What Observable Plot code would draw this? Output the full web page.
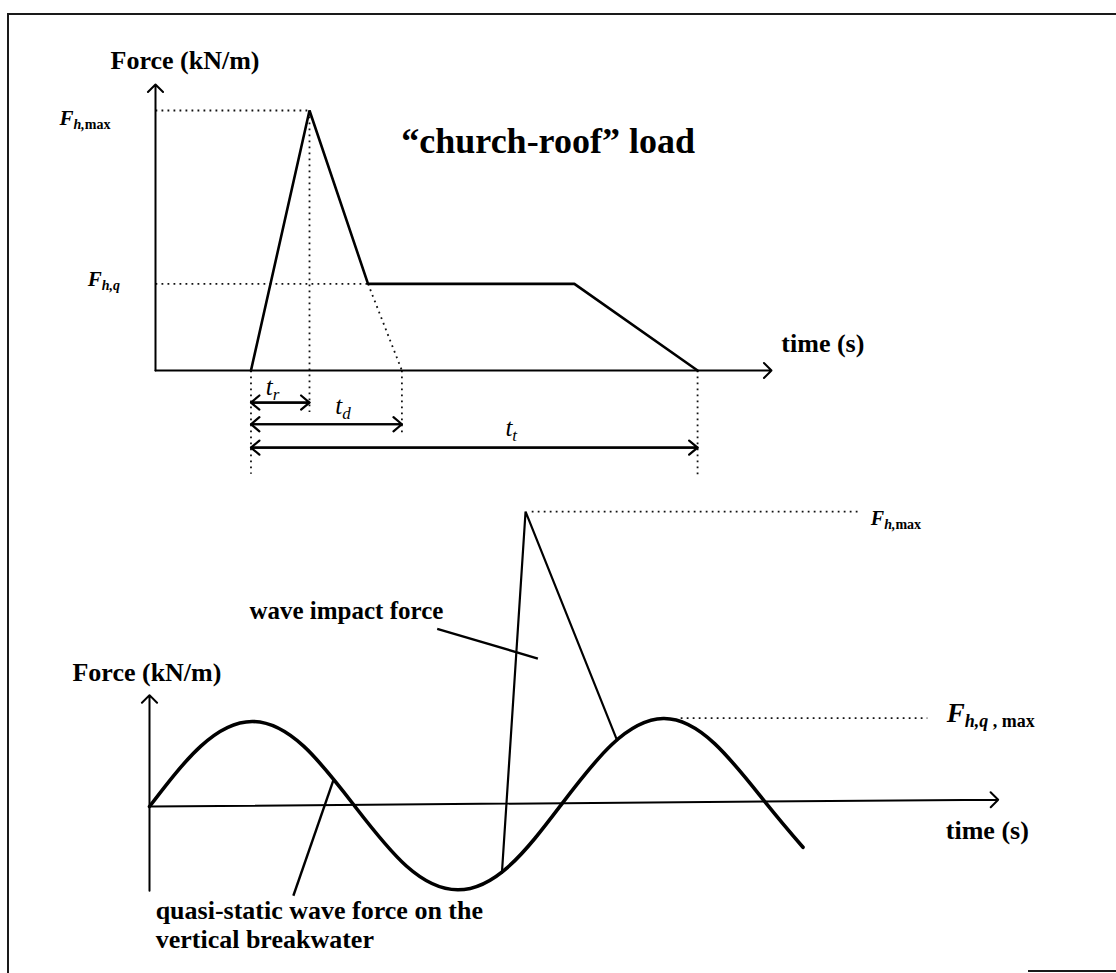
<!DOCTYPE html>
<html>
<head>
<meta charset="utf-8">
<script src="https://cdn.jsdelivr.net/npm/d3@7"></script>
<script src="https://cdn.jsdelivr.net/npm/@observablehq/plot@0.6"></script>
<style>
  body { margin: 0; background: #fff; }
  #page { position: relative; width: 1116px; height: 973px; overflow: hidden; background: #fff; }
  #upper, #lower { position: absolute; left: 0; }
  #upper { top: 0; }
  #lower { top: 480px; }
  .rule { position: absolute; background: #1a1a1a; z-index: 2; }
</style>
</head>
<body>
<div id="page">
  <div id="upper"></div>
  <div id="lower"></div>
  <div class="rule" style="left:7px;top:13px;width:1109px;height:2px"></div>
  <div class="rule" style="left:7px;top:13px;width:2px;height:960px"></div>
  <div class="rule" style="left:1028px;top:970px;width:88px;height:2px"></div>
</div>
<script>
// ---------- upper panel: idealised "church-roof" load history ----------
const roofTime  = [1.55, 2.5, 3.45, 6.8, 8.8];   // s (schematic units)
const roofForce = [0, 3, 1, 1, 0];                // kN/m (schematic units)
const tStart = 1.55, tPeak = 2.5, tPlateau = 3.45, tDuration = 4.0, tTotal = 8.8;
const fMax = 3, fQuasi = 1;

const spanNames  = ["r", "d", "t"];
const spanEnds   = [tPeak, tDuration, tTotal];
const spanLevels = [-0.37, -0.62, -0.89];
const spanLabelT = [1.79, 2.92, 5.68];
const spanLabelF = [-0.28, -0.50, -0.75];

const upperWords = ["Force (kN/m)", "time (s)", "\u201Cchurch-roof\u201D load"];
const upperWordT = [-0.73, 10.16, 3.99];
const upperWordF = [3.48, 0.21, 2.515];

const upperSymbols = [
  {main: "F", sub: "h,", tail: "max", t: -1.56, F: 2.83},
  {main: "F", sub: "h,q", tail: "", t: -1.10, F: 0.98}
];

// ---------- lower panel: quasi-static wave force with an impact peak ----------
const waveTime  = [0, 0.5, 1, 1.5, 2, 2.5, 3, 3.5, 4, 4.5, 5, 5.5, 6, 6.36];
const waveForce = [0, 0.71, 1.0, 0.71, 0, -0.70, -0.98, -0.70, 0.01, 0.73, 1.035, 0.74, 0.04, -0.48];
const impactTime  = [3.43, 3.66, 4.55];
const impactForce = [-0.78, 3.47, 0.78];
const impactPeak = 3.47, quasiPeak = 1.04;

const lowerWords = ["Force (kN/m)", "time (s)", "quasi-static wave force on the", "vertical breakwater"];
const lowerWordT = [-0.75, 7.75, 0.06, 0.06];
const lowerWordF = [1.48, -0.38, -1.32, -1.67];
// label that ends where its pointer starts
const impactWord = {w: "wave impact force", t: 2.86, F: 2.21};

const lowerPointers = [
  {t1: 2.80, f1: 2.09, t2: 3.78, f2: 1.74},
  {t1: 1.40, f1: -1.05, t2: 1.79, f2: 0.31}
];
const lowerSmallSymbols = [{main: "F", sub: "h,", tail: "max", t: 7.02, F: 3.31}];
const lowerBigSymbols   = [{main: "F", sub: "h,q", tail: " , max", t: 7.76, F: 0.99}];

// ---------- helpers ----------
const FONT = "'Liberation Serif','Times New Roman',Times,serif";
const NS = "http://www.w3.org/2000/svg";
const zip = (xs, ys) => xs.map((x, i) => ({x, y: ys[i]}));
const dots = {stroke: "#111", strokeWidth: 1.8, strokeDasharray: "1.8,4.2"};

// Turn "main|sub|tail" strings into a base glyph followed by subscript runs.
function richText(svg) {
  svg.querySelectorAll("text").forEach((node) => {
    if (!node.textContent.includes("|")) return;
    const g = node.closest("g");
    const main = parseFloat(g.getAttribute("font-size")) || 20;
    const sub = Math.round(main * 0.68);
    const [m, s, t] = node.textContent.split("|");
    node.textContent = "";
    const runs = [
      {text: m, size: main, italic: true},
      {text: s, size: sub, italic: true, dy: Math.round(main * 0.2)},
      {text: t, size: sub, italic: false}
    ];
    for (const r of runs) {
      if (!r.text) continue;
      const ts = document.createElementNS(NS, "tspan");
      ts.textContent = r.text;
      ts.setAttribute("font-size", r.size);
      ts.setAttribute("font-style", r.italic ? "italic" : "normal");
      if (r.dy) ts.setAttribute("dy", r.dy);
      node.appendChild(ts);
    }
  });
}

// ---------- upper chart ----------
const roof = zip(roofTime, roofForce);
const upperGuides = [
  {t1: 0, f1: fMax, t2: tPeak, f2: fMax},
  {t1: 0, f1: fQuasi, t2: tPlateau, f2: fQuasi},
  {t1: tPeak, f1: fMax, t2: tPeak, f2: -0.48},
  {t1: tPlateau, f1: fQuasi, t2: tDuration, f2: 0},
  {t1: tDuration, f1: 0, t2: tDuration, f2: -0.75},
  {t1: tStart, f1: 0, t2: tStart, f2: -1.19},
  {t1: tTotal, f1: 0, t2: tTotal, f2: -1.21}
];
const upperAxes = [
  {t1: 0, f1: 0, t2: 0, f2: 3.3},
  {t1: 0, f1: 0, t2: 10, f2: 0}
];
const spans = spanNames.map((n, i) => ({n, a: tStart, b: spanEnds[i], level: spanLevels[i]}));
const spanLabels = spanNames.map((n, i) => ({label: "t|" + n + "|", t: spanLabelT[i], F: spanLabelF[i]}));
const upperText = upperWords.map((w, i) => ({w, t: upperWordT[i], F: upperWordF[i]}));
const symText = (d) => `${d.main}|${d.sub}|${d.tail}`;

const upper = Plot.plot({
  width: 1116, height: 480, margin: 0,
  x: {domain: [0, 10], range: [155, 771], axis: null},
  y: {domain: [0, 3], range: [370, 110], axis: null},
  style: {fontFamily: FONT, background: "transparent", overflow: "visible", color: "#000"},
  marks: [
    Plot.link(upperGuides, {x1: "t1", y1: "f1", x2: "t2", y2: "f2", ...dots}),
    Plot.arrow(upperAxes, {x1: "t1", y1: "f1", x2: "t2", y2: "f2", stroke: "#000", strokeWidth: 2,
                           headLength: 8, headAngle: 90, insetEnd: 0, insetStart: 0}),
    Plot.line(roof, {x: "x", y: "y", stroke: "#000", strokeWidth: 2.6, strokeLinejoin: "miter"}),
    Plot.arrow(spans, {x1: "a", x2: "b", y1: "level", y2: "level", stroke: "#000", strokeWidth: 2.2,
                       headLength: 7.5, headAngle: 80, insetEnd: 0, insetStart: 0}),
    Plot.arrow(spans, {x1: "b", x2: "a", y1: "level", y2: "level", stroke: "#000", strokeWidth: 2.2,
                       headLength: 7.5, headAngle: 80, insetEnd: 0, insetStart: 0}),
    Plot.text(upperText.slice(0, 2), {x: "t", y: "F", text: "w", textAnchor: "start", lineAnchor: "bottom",
                                      fontSize: 26, fontWeight: "bold", fill: "#000"}),
    Plot.text(upperText.slice(2), {x: "t", y: "F", text: "w", textAnchor: "start", lineAnchor: "bottom",
                                   fontSize: 36, fontWeight: "bold", fill: "#000"}),
    Plot.text(upperSymbols, {x: "t", y: "F", text: symText, textAnchor: "start", lineAnchor: "bottom",
                             fontSize: 21, fontWeight: "bold", fill: "#000"}),
    Plot.text(spanLabels, {x: "t", y: "F", text: "label", textAnchor: "start", lineAnchor: "bottom",
                           fontSize: 25, fill: "#000"})
  ]
});
richText(upper);
document.getElementById("upper").appendChild(upper);

// ---------- lower chart ----------
const wave = zip(waveTime, waveForce);
const impact = zip(impactTime, impactForce);
const lowerGuides = [
  {t1: 3.72, f1: impactPeak, t2: 6.92, f2: impactPeak},
  {t1: 5.17, f1: quasiPeak, t2: 7.57, f2: quasiPeak}
];
const lowerAxes = [
  {t1: 0, f1: -0.99, t2: 0, f2: 1.31},
  {t1: 0, f1: 0, t2: 8.26, f2: 0.08}
];
const lowerText = lowerWords.map((w, i) => ({w, t: lowerWordT[i], F: lowerWordF[i]}));

const lower = Plot.plot({
  width: 1116, height: 493, margin: 0,
  x: {domain: [0, 8], range: [149, 971], axis: null},
  y: {domain: [-1, 1], range: [411, 241], axis: null},
  style: {fontFamily: FONT, background: "transparent", overflow: "visible", color: "#000"},
  marks: [
    Plot.link(lowerGuides, {x1: "t1", y1: "f1", x2: "t2", y2: "f2", ...dots}),
    Plot.arrow(lowerAxes, {x1: "t1", y1: "f1", x2: "t2", y2: "f2", stroke: "#000", strokeWidth: 2,
                           headLength: 8, headAngle: 90, insetEnd: 0, insetStart: 0}),
    Plot.line(wave, {x: "x", y: "y", stroke: "#000", strokeWidth: 3.6, curve: "natural"}),
    Plot.line(impact, {x: "x", y: "y", stroke: "#000", strokeWidth: 2.2, strokeLinejoin: "miter"}),
    Plot.link(lowerPointers, {x1: "t1", y1: "f1", x2: "t2", y2: "f2", stroke: "#000", strokeWidth: 2.4}),
    Plot.text(lowerText, {x: "t", y: "F", text: "w", textAnchor: "start", lineAnchor: "bottom",
                          fontSize: 26, fontWeight: "bold", fill: "#000"}),
    Plot.text([impactWord], {x: "t", y: "F", text: "w", textAnchor: "end", lineAnchor: "bottom",
                             fontSize: 25, fontWeight: "bold", fill: "#000"}),
    Plot.text(lowerSmallSymbols, {x: "t", y: "F", text: symText, textAnchor: "start", lineAnchor: "bottom",
                                  fontSize: 20, fontWeight: "bold", fill: "#000"}),
    Plot.text(lowerBigSymbols, {x: "t", y: "F", text: symText, textAnchor: "start", lineAnchor: "bottom",
                                fontSize: 27, fontWeight: "bold", fill: "#000"})
  ]
});
richText(lower);
document.getElementById("lower").appendChild(lower);
</script>
</body>
</html>
